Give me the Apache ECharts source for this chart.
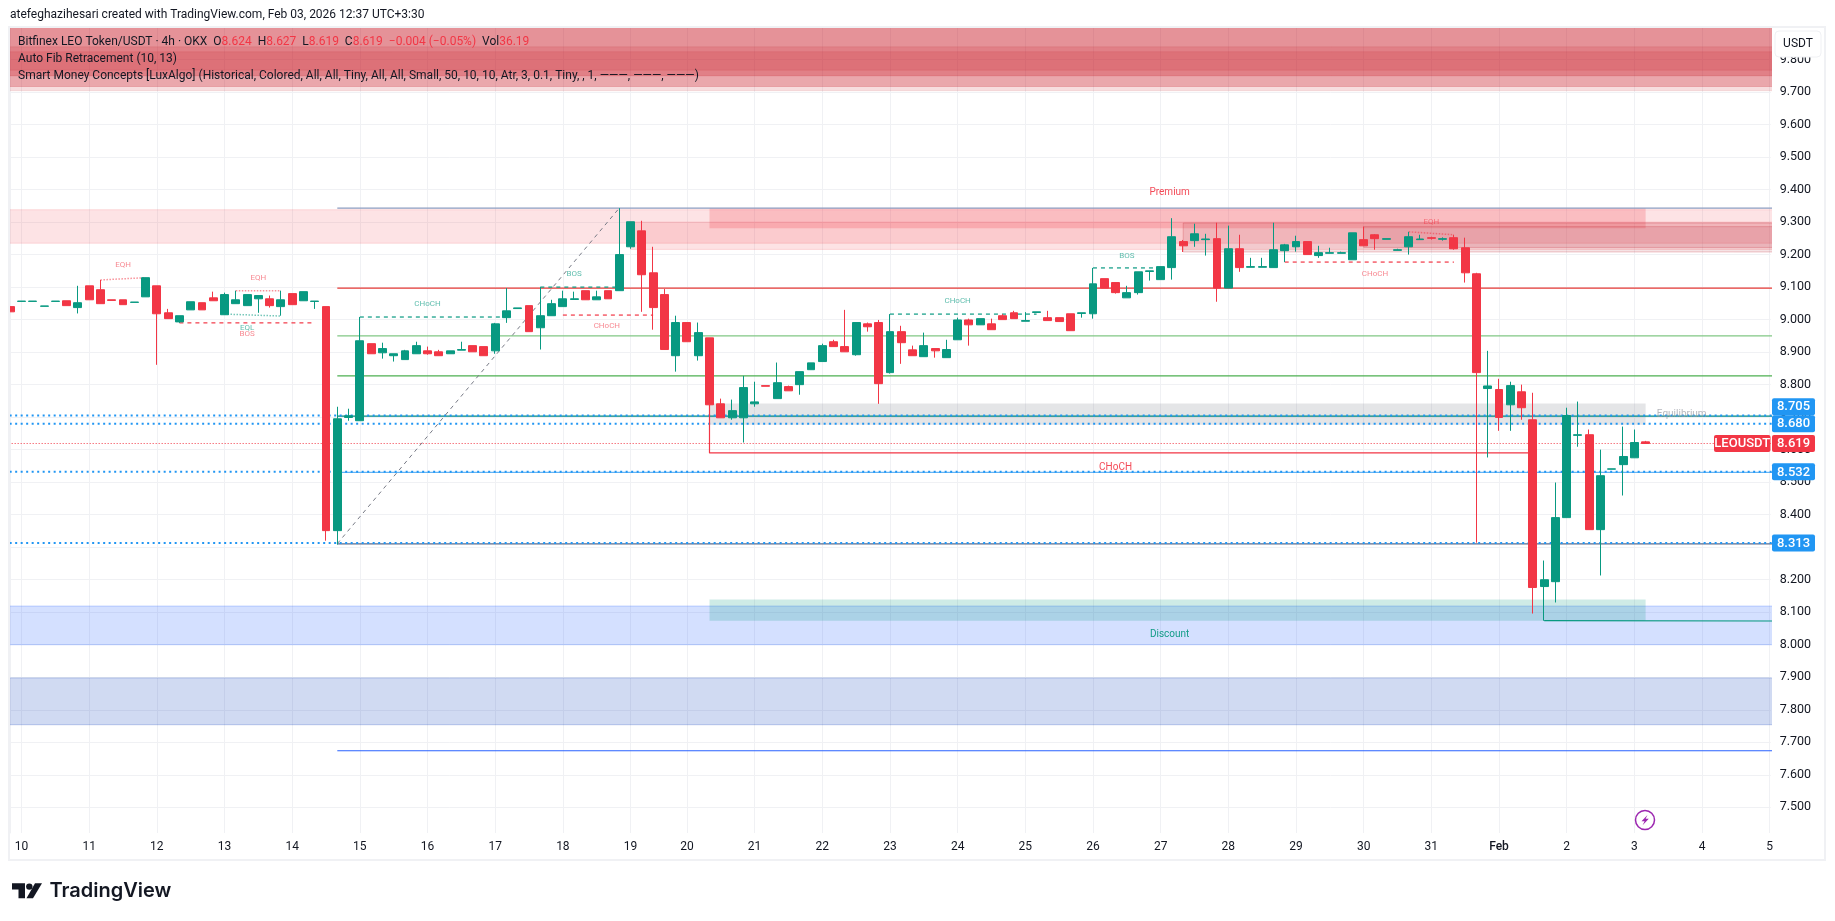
<!DOCTYPE html>
<html>
<head>
<meta charset="utf-8">
<title>LEOUSDT</title>
<script src="https://cdn.jsdelivr.net/npm/echarts@6/dist/echarts.min.js"></script>
<style>
html, body { margin: 0; padding: 0; background: #fff; }
#chart { width: 1835px; height: 921px; }
</style>
</head>
<body>
<div id="chart"></div>
<script>
// candle columns, position in the list is the bar number (4h bars)
const opens = [
	9.040, 9.056, 9.056, 9.041, 9.056, 9.058, 9.037, 9.104, 9.092, 9.061,
	9.061, 9.053, 9.070, 9.104, 9.021, 8.993, 9.030, 9.052, 9.067, 9.015,
	9.049, 9.043, 9.064, 9.064, 9.040, 9.080, 9.058, 9.056, 9.040, 8.351,
	8.699, 8.689, 8.926, 8.898, 8.889, 8.877, 8.895, 8.904, 8.901, 8.895,
	8.906, 8.920, 8.917, 8.904, 9.006, 9.034, 9.043, 8.975, 9.012, 9.040,
	9.062, 9.089, 9.061, 9.089, 9.089, 9.224, 9.273, 9.144, 9.077, 8.889,
	8.991, 8.889, 8.944, 8.741, 8.698, 8.698, 8.741, 8.797, 8.757, 8.794,
	8.800, 8.846, 8.871, 8.932, 8.917, 8.892, 8.987, 8.991, 8.837, 8.963,
	8.907, 8.886, 8.911, 8.883, 8.938, 8.999, 8.984, 8.987, 9.012, 9.021,
	8.995, 9.022, 9.006, 9.006, 9.018, 9.019, 9.018, 9.126, 9.114, 9.067,
	9.083, 9.148, 9.123, 9.160, 9.240, 9.243, 9.246, 9.249, 9.097, 9.218,
	9.161, 9.161, 9.160, 9.212, 9.224, 9.240, 9.197, 9.204, 9.204, 9.184,
	9.246, 9.261, 9.247, 9.213, 9.224, 9.246, 9.252, 9.247, 9.252, 9.221,
	9.141, 8.788, 8.785, 8.738, 8.778, 8.692, 8.179, 8.194, 8.391, 8.644,
	8.646, 8.354, 8.540, 8.554, 8.575, 8.624
];
const closes = [
	9.024, 9.057, 9.057, 9.042, 9.057, 9.043, 9.052, 9.061, 9.049, 9.059,
	9.046, 9.054, 9.129, 9.018, 9.003, 9.012, 9.055, 9.030, 9.058, 9.077,
	9.061, 9.077, 9.074, 9.043, 9.061, 9.046, 9.086, 9.057, 8.351, 8.695,
	8.704, 8.935, 8.895, 8.911, 8.895, 8.904, 8.920, 8.895, 8.889, 8.904,
	8.908, 8.901, 8.889, 8.987, 9.027, 9.036, 8.963, 9.012, 9.049, 9.064,
	9.064, 9.061, 9.070, 9.064, 9.200, 9.301, 9.138, 9.037, 8.908, 8.991,
	8.932, 8.960, 8.738, 8.698, 8.720, 8.791, 8.747, 8.795, 8.806, 8.781,
	8.840, 8.867, 8.920, 8.917, 8.901, 8.991, 8.978, 8.803, 8.963, 8.929,
	8.889, 8.920, 8.904, 8.908, 8.999, 8.984, 9.003, 8.969, 9.000, 9.003,
	8.997, 9.024, 8.997, 8.994, 8.966, 9.021, 9.110, 9.097, 9.083, 9.083,
	9.147, 9.150, 9.163, 9.255, 9.227, 9.264, 9.248, 9.097, 9.218, 9.160,
	9.163, 9.163, 9.215, 9.230, 9.240, 9.200, 9.206, 9.206, 9.206, 9.267,
	9.227, 9.249, 9.249, 9.215, 9.255, 9.248, 9.250, 9.249, 9.218, 9.144,
	8.837, 8.796, 8.699, 8.797, 8.729, 8.176, 8.200, 8.391, 8.705, 8.646,
	8.354, 8.520, 8.541, 8.579, 8.622, 8.619
];
const lows = [
	9.024, 9.056, 9.056, 9.041, 9.056, 9.043, 9.019, 9.061, 9.049, 9.059,
	9.046, 9.053, 9.070, 8.861, 9.003, 8.990, 9.030, 9.030, 9.058, 9.015,
	9.049, 9.043, 9.021, 9.037, 9.012, 9.046, 9.058, 9.033, 8.320, 8.308,
	8.689, 8.689, 8.895, 8.880, 8.871, 8.877, 8.895, 8.892, 8.889, 8.895,
	8.906, 8.901, 8.889, 8.895, 8.990, 9.034, 8.963, 8.908, 9.012, 9.040,
	9.062, 9.061, 9.061, 9.064, 9.089, 9.218, 9.024, 8.969, 8.908, 8.840,
	8.932, 8.874, 8.738, 8.698, 8.692, 8.622, 8.732, 8.795, 8.757, 8.781,
	8.769, 8.846, 8.871, 8.917, 8.901, 8.889, 8.963, 8.741, 8.834, 8.864,
	8.889, 8.886, 8.883, 8.883, 8.938, 8.920, 8.984, 8.969, 9.000, 9.003,
	8.995, 9.022, 8.997, 8.994, 8.966, 9.006, 9.003, 9.097, 9.080, 9.067,
	9.077, 9.120, 9.123, 9.123, 9.208, 9.224, 9.197, 9.055, 9.097, 9.147,
	9.161, 9.161, 9.160, 9.177, 9.209, 9.200, 9.190, 9.204, 9.204, 9.184,
	9.227, 9.215, 9.247, 9.213, 9.200, 9.246, 9.246, 9.243, 9.215, 9.114,
	8.314, 8.576, 8.658, 8.658, 8.692, 8.096, 8.074, 8.130, 8.391, 8.609,
	8.354, 8.213, 8.540, 8.459, 8.575, 8.619
];
const highs = [
	9.046, 9.057, 9.057, 9.042, 9.057, 9.058, 9.104, 9.104, 9.122, 9.061,
	9.061, 9.054, 9.129, 9.104, 9.033, 9.012, 9.055, 9.052, 9.086, 9.083,
	9.089, 9.077, 9.074, 9.074, 9.089, 9.080, 9.086, 9.057, 9.040, 8.732,
	8.726, 9.008, 8.926, 8.929, 8.895, 8.907, 8.932, 8.917, 8.907, 8.904,
	8.932, 8.920, 8.917, 8.990, 9.097, 9.036, 9.043, 9.100, 9.061, 9.089,
	9.086, 9.089, 9.089, 9.089, 9.343, 9.301, 9.304, 9.224, 9.094, 9.012,
	8.991, 8.991, 8.944, 8.757, 8.754, 8.827, 8.809, 8.797, 8.868, 8.797,
	8.840, 8.867, 8.926, 8.938, 9.030, 8.991, 8.991, 8.999, 9.017, 8.981,
	8.920, 8.960, 8.911, 8.938, 9.006, 9.003, 9.003, 9.003, 9.017, 9.027,
	9.023, 9.024, 9.027, 9.006, 9.018, 9.021, 9.159, 9.126, 9.114, 9.104,
	9.147, 9.150, 9.163, 9.312, 9.245, 9.295, 9.264, 9.298, 9.289, 9.261,
	9.190, 9.190, 9.298, 9.233, 9.258, 9.240, 9.227, 9.221, 9.209, 9.267,
	9.286, 9.263, 9.249, 9.218, 9.270, 9.261, 9.255, 9.253, 9.261, 9.252,
	9.144, 8.904, 8.818, 8.809, 8.800, 8.775, 8.259, 8.499, 8.729, 8.748,
	8.662, 8.600, 8.541, 8.671, 8.662, 8.627
];

// time axis: bar number of each day label (one bar is missing on Jan 19)
const dayTickBars = [1, 7, 13, 19, 25, 31, 37, 43, 49, 55, 60, 66, 72, 78, 84, 90, 96, 102, 108, 114, 120, 126, 132, 138, 144, 150, 156];
const dayTickLabels = ['10', '11', '12', '13', '14', '15', '16', '17', '18', '19', '20', '21', '22', '23', '24', '25', '26', '27', '28', '29', '30', '31', 'Feb', '2', '3', '4', '5'];
const priceTicks = [7.5, 7.6, 7.7, 7.8, 7.9, 8.0, 8.1, 8.2, 8.3, 8.4, 8.5, 8.6, 8.7, 8.8, 8.9, 9.0, 9.1, 9.2, 9.3, 9.4, 9.5, 9.6, 9.7, 9.8];
const priceTags = [8.705, 8.680, 8.532, 8.313];
const lastPrice = 8.619;

// auto fib levels, they start at bar 29
const fibLevels = [9.343, 9.097, 8.950, 8.827, 8.703, 8.530, 8.310, 7.674];
const fibSwing = [[29, 8.311], [54, 9.343]];
const dottedLevels = [8.705, 8.680, 8.532, 8.313];

// zones as [from bar, to bar, low, high]
const topZones = [
	[-2, 158, 9.704, 9.95], [-2, 158, 9.717, 9.95], [-2, 158, 9.717, 9.95],
	[-2, 158, 9.750, 9.95], [-2, 158, 9.750, 9.839], [-2, 158, 9.767, 9.824]
];
const supplyZones = [[-2, 158, 9.235, 9.338], [55, 158, 9.216, 9.300]];
const blockZones = [[104, 158, 9.208, 9.297], [120, 158, 9.222, 9.286]];
const premiumZone = [[62, 145, 9.281, 9.343]];
const equilibriumZone = [[62, 145, 8.677, 8.742]];
const discountZone = [[62, 145, 8.074, 8.139]];
const demandZone = [[-2, 158, 8.000, 8.119]];
const deepDemandZone = [[-2, 158, 7.754, 7.898]];

// structure lines
const redDashed = [
	[[15, 8.990], [27, 8.990]],
	[[49, 9.014], [57, 9.014]],
	[[113, 9.177], [128, 9.177]]
];
const tealDashed = [
	[[31, 9.008], [44, 9.008]],
	[[47, 9.100], [54, 9.100]],
	[[78, 9.017], [91, 9.017]],
	[[96, 9.159], [102, 9.159]]
];
const eqhLines = [
	[[8, 9.122], [12, 9.129]],
	[[20, 9.089], [24, 9.089]],
	[[124, 9.270], [128, 9.261]]
];
const eqlLines = [[[19, 9.017], [24, 9.011]]];
const redChoch = [[62, 8.738], [62, 8.590], [134.6, 8.590]];
const tealSwing = [[136, 8.074], [136, 8.073], [158, 8.073]];

// texts on the chart as [bar, price, text]
const redTexts = [[10, 9.167, 'EQH'], [22, 9.127, 'EQH'], [21, 8.955, 'BOS'], [52.9, 8.980, 'CHoCH'], [121, 9.140, 'CHoCH'], [126, 9.300, 'EQH']];
const tealTexts = [[21, 8.973, 'EQL'], [50, 9.140, 'BOS'], [37, 9.048, 'CHoCH'], [84, 9.057, 'CHoCH'], [99, 9.196, 'BOS']];
const zoneRedTexts = [[102.8, 9.390, 'Premium'], [98, 8.546, 'CHoCH']];
const zoneTealTexts = [[102.8, 8.030, 'Discount']];
const zoneGreyTexts = [[148.2, 8.708, 'Equilibrium']];

const UP = '#089981';
const DOWN = '#f23645';
const BLUE = '#2196f3';
const TEXT = '#131722';
const GRID = '#f0f1f4';
const FONT = 'Roboto, "Noto Sans", sans-serif';
const PANE_LEFT = 9.5, PANE_TOP = 27, PANE_RIGHT = 1770.7, PANE_BOTTOM = 833;

const candleData = opens.map((o, i) => [i, o, closes[i], lows[i], highs[i]]);

function zoneSeries(data, fill, stroke) {
	return {
		type: 'custom',
		clip: true,
		silent: true,
		z: 1,
		data: data,
		renderItem: function (params, api) {
			let a = api.coord([api.value(0), api.value(3)]);
			let b = api.coord([api.value(1), api.value(2)]);
			return {
				type: 'rect',
				shape: { x: a[0], y: a[1], width: b[0] - a[0], height: b[1] - a[1] },
				style: { fill: fill, stroke: stroke, lineWidth: stroke ? 1 : 0 }
			};
		}
	};
}

function lineSeries(points, color, width, type, z) {
	return {
		type: 'line',
		silent: true,
		showSymbol: false,
		z: z || 2,
		data: points,
		lineStyle: { color: color, width: width, type: type || 'solid' }
	};
}

function textSeries(rows, color, size, opacity) {
	return {
		type: 'custom',
		silent: true,
		z: 6,
		data: rows.map(r => [r[0], r[1]]),
		renderItem: function (params, api) {
			let p = api.coord([api.value(0), api.value(1)]);
			return {
				type: 'text',
				x: p[0],
				y: p[1],
				style: {
					text: rows[params.dataIndex][2],
					fill: color,
					opacity: opacity,
					font: size + 'px ' + FONT,
					align: 'center',
					verticalAlign: 'middle'
				}
			};
		}
	};
}

function tagShape(x, y, w, text, fill) {
	return [{
		type: 'rect',
		shape: { x: x, y: y - 8.5, width: w, height: 17, r: 2 },
		style: { fill: fill }
	}, {
		type: 'text',
		x: x + w / 2,
		y: y + 0.5,
		style: { text: text, fill: '#fff', font: '500 13px ' + FONT, align: 'center', verticalAlign: 'middle' }
	}];
}

const fibColors = ['#8c9bbf', '#e53935', '#81c784', '#4caf50', '#00897b', '#64b5f6', '#5d6b8a', '#2962ff'];

const seriesList = [
	zoneSeries(topZones, 'rgba(201,28,43,0.15)', 'rgba(201,28,43,0.1)'),
	zoneSeries(supplyZones, 'rgba(242,54,69,0.14)', 'rgba(242,54,69,0.15)'),
	zoneSeries(premiumZone, 'rgba(242,54,69,0.22)'),
	zoneSeries(blockZones, 'rgba(178,40,51,0.13)', 'rgba(200,40,51,0.25)'),
	zoneSeries(equilibriumZone, 'rgba(120,123,134,0.2)'),
	zoneSeries(demandZone, 'rgba(41,98,255,0.2)', 'rgba(41,98,255,0.25)'),
	zoneSeries(deepDemandZone, 'rgba(18,68,190,0.2)', 'rgba(18,68,190,0.25)'),
	zoneSeries(discountZone, 'rgba(8,153,129,0.2)')
];

fibLevels.forEach(function (level, i) {
	seriesList.push(lineSeries([[29, level], [158, level]], fibColors[i], 1.2));
});
dottedLevels.forEach(function (level) {
	seriesList.push(lineSeries([[-2, level], [158, level]], BLUE, 2, [2, 3.5]));
});
seriesList.push(lineSeries([[-2, lastPrice], [158, lastPrice]], DOWN, 1, [1, 2]));
seriesList.push(lineSeries(fibSwing, '#787b86', 1, [4, 4]));
redDashed.forEach(function (pts) { seriesList.push(lineSeries(pts, DOWN, 1.2, [4, 4])); });
tealDashed.forEach(function (pts) { seriesList.push(lineSeries(pts, UP, 1.2, [4, 4])); });
eqhLines.forEach(function (pts) { seriesList.push(lineSeries(pts, 'rgba(242,54,69,0.55)', 1.5, [1.5, 1.5])); });
eqlLines.forEach(function (pts) { seriesList.push(lineSeries(pts, 'rgba(8,153,129,0.55)', 1.5, [1.5, 1.5])); });
seriesList.push(lineSeries(redChoch, DOWN, 1.2));
seriesList.push(lineSeries(tealSwing, UP, 1.2));

seriesList.push({
	type: 'candlestick',
	silent: true,
	z: 4,
	barWidth: 8.4,
	data: candleData,
	itemStyle: { color: UP, color0: DOWN, borderColor: UP, borderColor0: DOWN, borderWidth: 1 }
});

seriesList.push(textSeries(redTexts, DOWN, 8, 0.6));
seriesList.push(textSeries(tealTexts, UP, 8, 0.65));
seriesList.push(textSeries(zoneRedTexts, DOWN, 10, 0.9));
seriesList.push(textSeries(zoneTealTexts, UP, 10, 0.95));
seriesList.push(textSeries(zoneGreyTexts, '#9598a1', 10, 0.7));

// price tags in the axis, overlapping ones are pushed up
seriesList.push({
	type: 'custom',
	silent: true,
	z: 8,
	data: priceTags.map(p => [0, p]),
	renderItem: function (params, api) {
		let i = params.dataIndex;
		let y = api.coord([0, api.value(1)])[1];
		if (i < priceTags.length - 1) {
			let nextY = api.coord([0, priceTags[i + 1]])[1];
			if (nextY - y < 17) {
				y = nextY - 17;
			}
		}
		return { type: 'group', children: tagShape(PANE_RIGHT + 1.3, y, 43, priceTags[i].toFixed(3), BLUE) };
	}
});
seriesList.push({
	type: 'custom',
	silent: true,
	z: 8,
	data: [[0, lastPrice]],
	renderItem: function (params, api) {
		let y = api.coord([0, api.value(1)])[1];
		return {
			type: 'group',
			children: tagShape(1714, y, 56.5, 'LEOUSDT', DOWN).concat(tagShape(PANE_RIGHT + 1.3, y, 43, lastPrice.toFixed(3), DOWN))
		};
	}
});

const chart = echarts.init(document.getElementById('chart'));
chart.setOption({
	animation: false,
	backgroundColor: '#fff',
	grid: { left: PANE_LEFT, top: PANE_TOP, right: 1835 - PANE_RIGHT, bottom: 921 - PANE_BOTTOM },
	xAxis: {
		type: 'value',
		min: -0.064,
		max: 156.09,
		axisLine: { show: false },
		axisTick: { show: false, customValues: dayTickBars },
		splitLine: { show: true, lineStyle: { color: GRID, width: 1 } },
		axisLabel: {
			customValues: dayTickBars,
			margin: 8,
			color: TEXT,
			fontFamily: FONT,
			fontSize: 12,
			showMinLabel: true,
			showMaxLabel: true,
			hideOverlap: false,
			formatter: function (value) {
				let label = dayTickLabels[dayTickBars.indexOf(value)];
				return label === 'Feb' ? '{strong|Feb}' : label;
			},
			rich: { strong: { color: TEXT, fontFamily: FONT, fontSize: 12, fontWeight: 500 } }
		}
	},
	yAxis: {
		type: 'value',
		position: 'right',
		min: 7.421,
		max: 9.9,
		axisLine: { show: true, lineStyle: { color: GRID } },
		axisTick: { show: false, customValues: priceTicks },
		splitLine: { show: true, lineStyle: { color: GRID, width: 1 } },
		axisLabel: {
			customValues: priceTicks,
			margin: 9,
			color: TEXT,
			fontFamily: FONT,
			fontSize: 12.5,
			formatter: function (value) {
				return value.toFixed(3);
			}
		}
	},
	series: seriesList,
	graphic: [
		// the candlestick series only drops whole boxes, so the left edge is masked
		{ type: 'rect', z: 15, silent: true, shape: { x: 0, y: 27, width: 9, height: 833 }, style: { fill: '#fff' } },
		{ type: 'rect', z: 16, silent: true, shape: { x: 9, y: 27, width: 1816, height: 833 }, style: { fill: 'none', stroke: '#f0f1f4', lineWidth: 2 } },
		{ type: 'text', z: 20, x: 10, y: 15, style: { text: 'atefeghazihesari created with TradingView.com, Feb 03, 2026 12:37 UTC+3:30', fill: TEXT, font: '12px ' + FONT, verticalAlign: 'middle' } },
		{
			type: 'text', z: 20, x: 18, y: 42,
			style: {
				text: 'Bitfinex LEO Token/USDT · 4h · OKX  O{r|8.624}  H{r|8.627}  L{r|8.619}  C{r|8.619}  {r|−0.004 (−0.05%)}  Vol{r|36.19}',
				fill: TEXT,
				font: '12px ' + FONT,
				verticalAlign: 'middle',
				rich: { r: { fill: DOWN, font: '12px ' + FONT } }
			}
		},
		{ type: 'text', z: 20, x: 18, y: 59, style: { text: 'Auto Fib Retracement (10, 13)', fill: TEXT, font: '12px ' + FONT, verticalAlign: 'middle' } },
		{ type: 'text', z: 20, x: 18, y: 76, style: { text: 'Smart Money Concepts [LuxAlgo] (Historical, Colored, All, All, Tiny, All, All, Small, 50, 10, 10, Atr, 3, 0.1, Tiny, , 1, ———, ———, ———)', fill: TEXT, font: '12px ' + FONT, verticalAlign: 'middle' } },
		// USDT button
		{ type: 'rect', z: 20, shape: { x: 1775, y: 31, width: 46, height: 26, r: 4 }, style: { fill: '#fff', stroke: '#f0f1f4', lineWidth: 1 } },
		{ type: 'text', z: 21, x: 1798, y: 44, style: { text: 'USDT', fill: TEXT, font: '12px ' + FONT, align: 'center', verticalAlign: 'middle' } },
		// bolt icon
		{ type: 'circle', z: 20, shape: { cx: 1645, cy: 820, r: 9.5 }, style: { fill: '#fff', stroke: '#9c27b0', lineWidth: 1.5 } },
		{ type: 'polygon', z: 21, shape: { points: [[1647.5, 815], [1641.5, 821.2], [1644.6, 821.2], [1642.6, 825.2], [1648.8, 818.8], [1645.6, 818.8]] }, style: { fill: '#9c27b0' } },
		// TradingView logo
		{ type: 'polygon', z: 20, shape: { points: [[12, 883.3], [25, 883.3], [25, 898.3], [18.5, 898.3], [18.5, 889.5], [12, 889.5]] }, style: { fill: '#131722' } },
		{ type: 'circle', z: 20, shape: { cx: 29.3, cy: 886.6, r: 3.2 }, style: { fill: '#131722' } },
		{ type: 'polygon', z: 20, shape: { points: [[35, 883.3], [42, 883.3], [33, 898.3], [26.5, 898.3]] }, style: { fill: '#131722' } },
		{ type: 'text', z: 20, x: 49.5, y: 891, style: { text: 'TradingView', fill: '#131722', font: '600 20px Inter, Roboto, sans-serif', verticalAlign: 'middle' } }
	]
});
</script>
</body>
</html>
